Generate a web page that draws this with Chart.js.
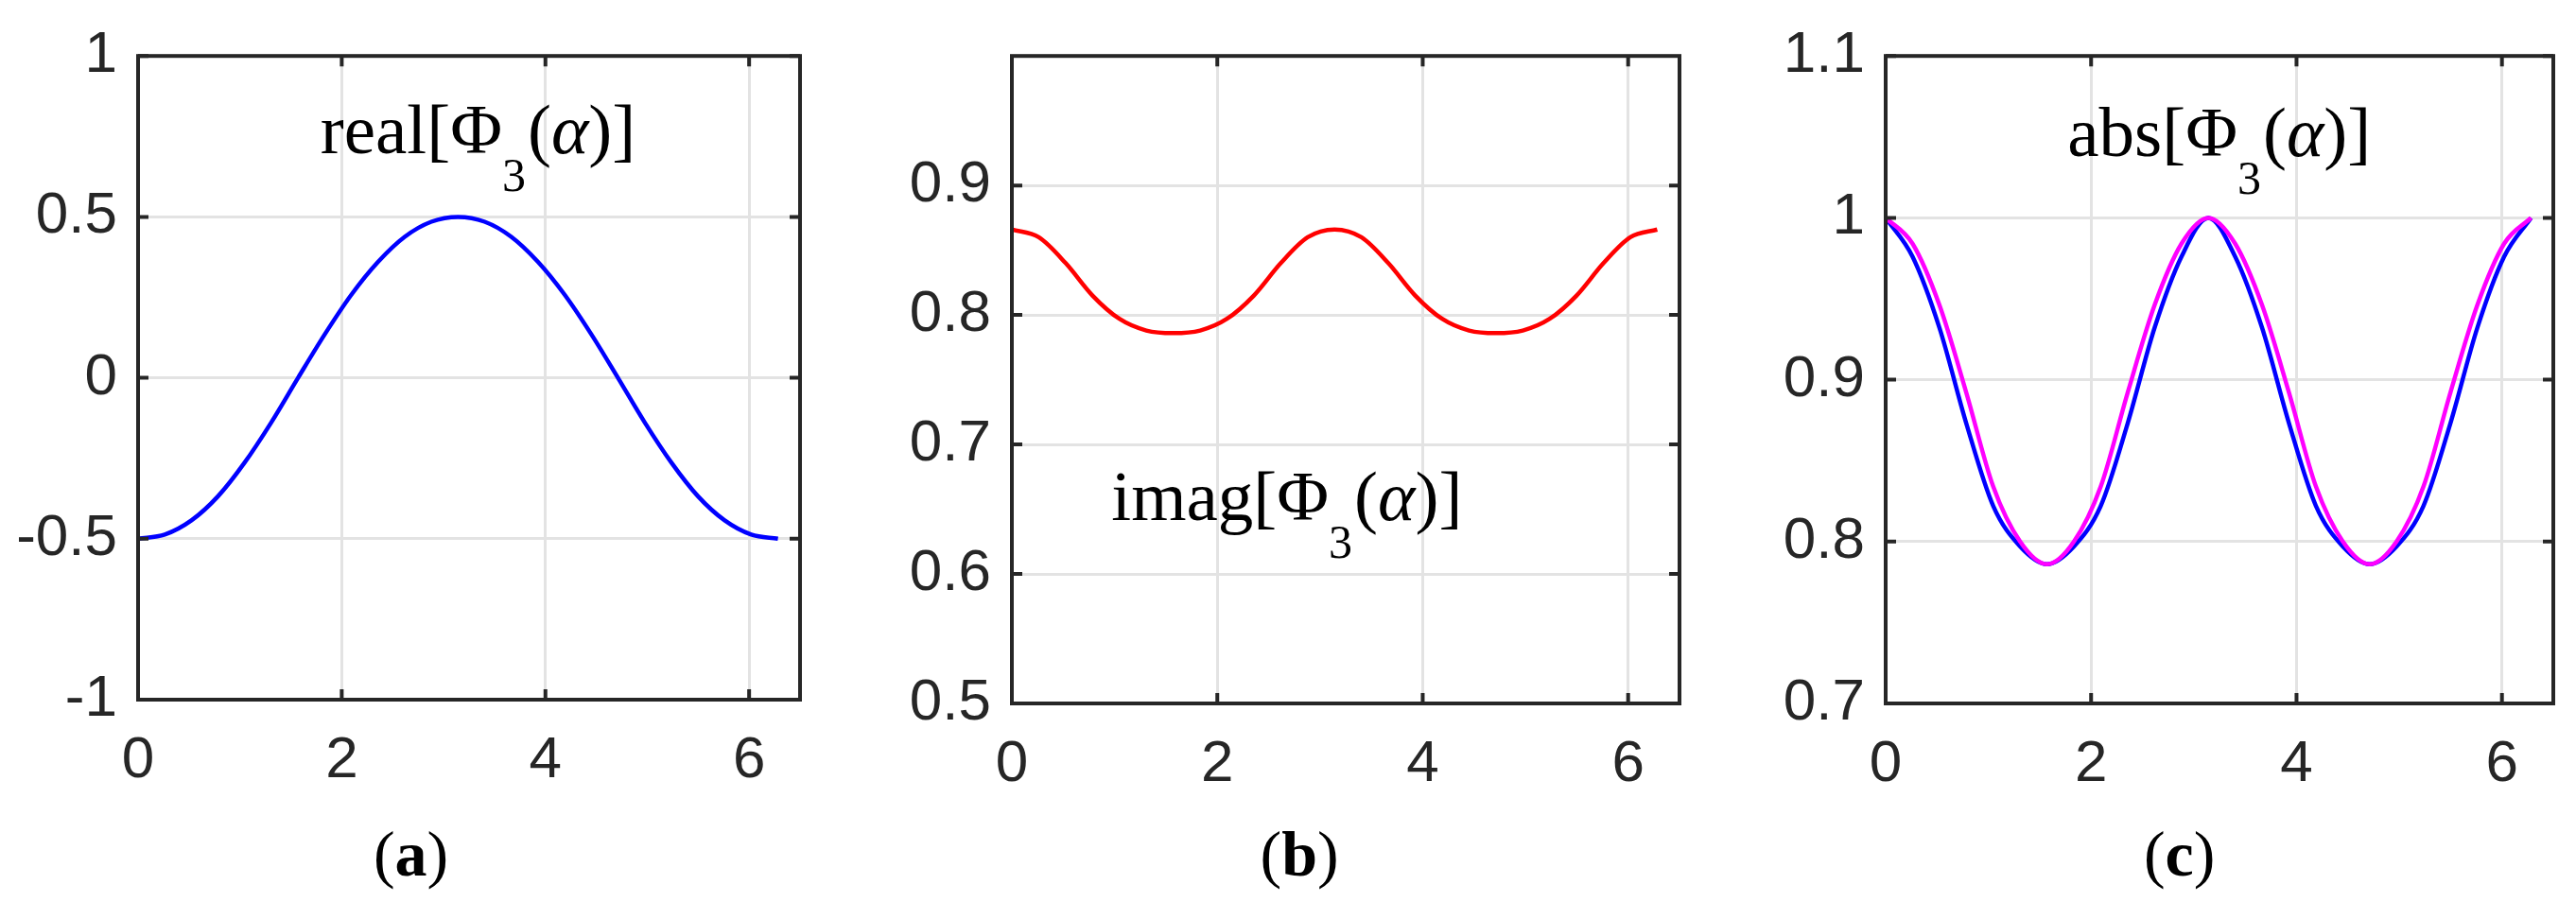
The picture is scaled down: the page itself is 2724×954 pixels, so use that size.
<!DOCTYPE html>
<html>
<head>
<meta charset="utf-8">
<script src="https://cdn.jsdelivr.net/npm/chart.js@4.4.1/dist/chart.umd.min.js"></script>
<style>
  html, body { margin: 0; padding: 0; background: #fff; }
  #wrap { position: relative; width: 2724px; height: 954px; overflow: hidden; background: #fff; }
  canvas { position: absolute; top: 0; }
</style>
</head>
<body>
<div id="wrap">
  <canvas id="panelA" width="908" height="954" style="left:0px"></canvas>
  <canvas id="panelB" width="908" height="954" style="left:908px"></canvas>
  <canvas id="panelC" width="908" height="954" style="left:1816px"></canvas>
</div>
<script>
// alpha samples (0 .. 2pi) and the curves
const alpha = [0, 0.262, 0.524, 0.785, 1.047, 1.309, 1.571, 1.833, 2.094, 2.356, 2.618, 2.880, 3.142,
               3.403, 3.665, 3.927, 4.189, 4.451, 4.712, 4.974, 5.236, 5.498, 5.760, 6.021, 6.283];
const realPhi = [-0.500, -0.487, -0.443, -0.368, -0.263, -0.138, 0.000, 0.135, 0.258, 0.360, 0.438, 0.485, 0.500,
                 0.485, 0.438, 0.360, 0.258, 0.135, 0.000, -0.138, -0.263, -0.368, -0.443, -0.487, -0.500];
const imagPhi = [0.866, 0.860, 0.840, 0.815, 0.797, 0.788, 0.786, 0.788, 0.797, 0.815, 0.840, 0.860, 0.866,
                 0.860, 0.840, 0.815, 0.797, 0.788, 0.786, 0.788, 0.797, 0.815, 0.840, 0.860, 0.866];
const absPhi = [1.000, 0.976, 0.932, 0.873, 0.822, 0.797, 0.786, 0.797, 0.822, 0.873, 0.932, 0.976, 1.000,
                0.976, 0.932, 0.873, 0.822, 0.797, 0.786, 0.797, 0.822, 0.873, 0.932, 0.976, 1.000];
const absPhiFit = [1.000, 0.984, 0.946, 0.892, 0.834, 0.800, 0.786, 0.800, 0.834, 0.892, 0.946, 0.984, 1.000,
                   0.984, 0.946, 0.892, 0.834, 0.800, 0.786, 0.800, 0.834, 0.892, 0.946, 0.984, 1.000];

const xTicks = [0, 2, 4, 6];
const yTicksA = [-1, -0.5, 0, 0.5, 1];
const yTicksB = [0.5, 0.6, 0.7, 0.8, 0.9];
const yTicksC = [0.7, 0.8, 0.9, 1, 1.1];

const INK = '#262626';
const GRID = '#e3e3e3';
const tickFont = { family: '"Liberation Sans", Arial, sans-serif', size: 62 };
const SERIF = '"Liberation Serif", "Times New Roman", serif';

function points(ys) {
  return alpha.map((x, i) => ({ x: x, y: ys[i] }));
}

function fmt(v) {
  return String(parseFloat(Number(v).toFixed(2)));
}

// matlab style box: frame, inward ticks, the Phi label and the (a)/(b)/(c) caption
const decor = {
  id: 'decor',
  afterDraw(chart, args, opts) {
    const ctx = chart.ctx, a = chart.chartArea;
    const sx = chart.scales.x, sy = chart.scales.y;
    ctx.save();
    ctx.strokeStyle = INK;
    ctx.lineWidth = 4;
    ctx.beginPath();
    xTicks.forEach(v => {
      const p = sx.getPixelForValue(v);
      ctx.moveTo(p, a.bottom); ctx.lineTo(p, a.bottom - 11);
      ctx.moveTo(p, a.top); ctx.lineTo(p, a.top + 11);
    });
    opts.yTicks.forEach(v => {
      const p = sy.getPixelForValue(v);
      ctx.moveTo(a.left, p); ctx.lineTo(a.left + 11, p);
      ctx.moveTo(a.right, p); ctx.lineTo(a.right - 11, p);
    });
    ctx.stroke();
    ctx.strokeRect(a.left, a.top, a.right - a.left, a.bottom - a.top);

    // curve label, e.g. real[Φ3(α)] with subscript 3
    const segs = [
      { t: opts.name + '[' }, { t: 'Φ' }, { t: '3', sub: true },
      { t: '(' }, { t: 'α', it: true }, { t: ')]' }
    ];
    let x = sx.getPixelForValue(opts.at[0]);
    const y = sy.getPixelForValue(opts.at[1]);
    ctx.fillStyle = '#000';
    ctx.textAlign = 'left';
    ctx.textBaseline = 'alphabetic';
    segs.forEach(s => {
      ctx.font = (s.it ? 'italic ' : '') + (s.sub ? 50 : 75) + 'px ' + SERIF;
      ctx.fillText(s.t, x, s.sub ? y + 40 : y);
      x += ctx.measureText(s.t).width + (s.sub ? 2 : 0);
    });

    // caption (a) with bold letter
    const cap = [
      { t: '(', f: '68px ' + SERIF },
      { t: opts.caption, f: 'bold 68px ' + SERIF },
      { t: ')', f: '68px ' + SERIF }
    ];
    let total = 0;
    cap.forEach(c => { ctx.font = c.f; c.w = ctx.measureText(c.t).width; total += c.w; });
    let cx = sx.getPixelForValue(opts.capAt) - total / 2;
    cap.forEach(c => {
      ctx.font = c.f;
      ctx.fillText(c.t, cx, 926);
      cx += c.w;
    });
    ctx.restore();
  }
};

function makePanel(id, p) {
  return new Chart(document.getElementById(id), {
    type: 'line',
    data: {
      datasets: p.series.map(s => ({
        data: points(s.values),
        borderColor: s.color,
        borderWidth: 4.5,
        pointRadius: 0,
        fill: false,
        cubicInterpolationMode: 'monotone',
        order: s.order
      }))
    },
    options: {
      responsive: false,
      animation: false,
      devicePixelRatio: 1,
      layout: { padding: { top: p.top, right: p.right, left: 0, bottom: 0 } },
      plugins: {
        legend: { display: false },
        tooltip: { enabled: false },
        decor: { yTicks: p.yTicks, name: p.name, at: p.at, caption: p.caption, capAt: p.capAt }
      },
      scales: {
        x: {
          type: 'linear', min: 0, max: 6.5,
          afterBuildTicks: s => { s.ticks = xTicks.map(v => ({ value: v })); },
          afterFit: s => { s.height = 954 - p.bottom; },
          grid: { color: GRID, lineWidth: 3, drawTicks: false },
          border: { display: false },
          ticks: { font: tickFont, color: INK, padding: 28, maxRotation: 0, autoSkip: false, callback: fmt }
        },
        y: {
          type: 'linear', min: p.yMin, max: p.yMax,
          afterBuildTicks: s => { s.ticks = p.yTicks.map(v => ({ value: v })); },
          afterFit: s => { s.width = p.left; },
          grid: { color: GRID, lineWidth: 3, drawTicks: false },
          border: { display: false },
          ticks: { font: tickFont, color: INK, padding: 22, autoSkip: false, callback: fmt }
        }
      }
    },
    plugins: [decor]
  });
}

makePanel('panelA', {
  left: 146, top: 40, right: 62, bottom: 740, yMin: -1, yMax: 1, yTicks: yTicksA,
  series: [{ values: realPhi, color: '#0000ff', order: 0 }],
  name: 'real', at: [1.79, 0.697], caption: 'a', capAt: 2.68
});
makePanel('panelB', {
  left: 162, top: 37, right: 40, bottom: 744, yMin: 0.5, yMax: 1, yTicks: yTicksB,
  series: [{ values: imagPhi, color: '#ff0000', order: 0 }],
  name: 'imag', at: [0.97, 0.642], caption: 'b', capAt: 2.80
});
makePanel('panelC', {
  left: 178, top: 37, right: 24, bottom: 744, yMin: 0.7, yMax: 1.1, yTicks: yTicksC,
  series: [
    { values: absPhi, color: '#0000ff', order: 1 },
    { values: absPhiFit, color: '#ff00ff', order: 0 }
  ],
  name: 'abs', at: [1.77, 1.038], caption: 'c', capAt: 2.86
});
</script>
</body>
</html>
